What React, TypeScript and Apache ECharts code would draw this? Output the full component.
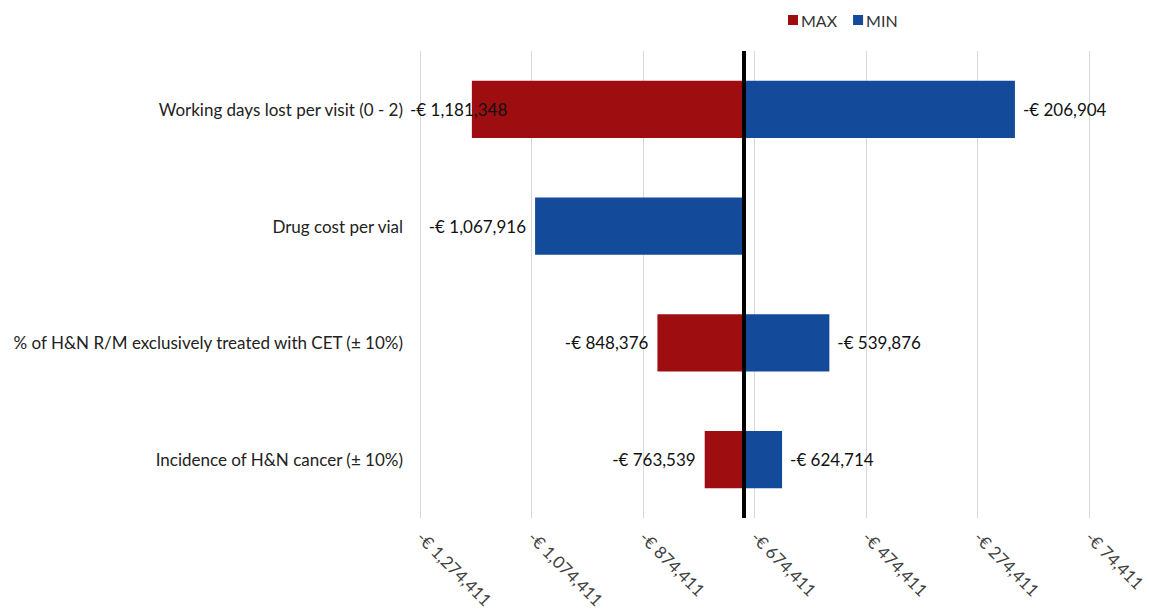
import React, { useEffect, useRef } from "react";
import * as echarts from "echarts";

const categories = [
  "Working days lost per visit (0 - 2)",
  "Drug cost per vial",
  "% of H&N R/M exclusively treated with CET (± 10%)",
  "Incidence of H&N cancer (± 10%)",
];
const maxValues: (number | null)[] = [-1181348, null, -848376, -763539];
const minValues: (number | null)[] = [-206904, -1067916, -539876, -624714];
const baseValue = -694126;
const axisMin = -1274411;
const axisMax = -74411;
const axisStep = 200000;

const RED = "#9E0E10";
const BLUE = "#134A9A";
const FONT = "Lato, 'Open Sans', sans-serif";
const LABEL_FONT_SIZE = 17;

function fmt(v: number): string {
  const s = Math.abs(Math.round(v)).toLocaleString("en-US");
  return (v < 0 ? "-" : "") + "€ " + s;
}

let measureCtx: CanvasRenderingContext2D | null = null;
function textWidth(t: string): number {
  if (!measureCtx) {
    const c = document.createElement("canvas");
    measureCtx = c.getContext("2d");
  }
  if (!measureCtx) return t.length * 9;
  measureCtx.font = `${LABEL_FONT_SIZE}px ${FONT}`;
  return measureCtx.measureText(t).width;
}

function makeRender(color: string) {
  return (params: any, api: any) => {
    const v = api.value(0);
    const c = api.value(1);
    const pBase = api.coord([baseValue, c]);
    const pVal = api.coord([v, c]);
    const band = api.size([0, 1])[1];
    const h = band * 0.49;
    const x = Math.min(pBase[0], pVal[0]);
    const w = Math.abs(pBase[0] - pVal[0]);
    const label = fmt(v);
    const left = v < baseValue;
    const gridLeft = params.coordSys.x - 10;
    let lx: number;
    let align: string;
    if (left) {
      lx = x - 9;
      align = "right";
      const tw = textWidth(label);
      if (lx - tw < gridLeft) {
        lx = gridLeft;
        align = "left";
      }
    } else {
      lx = x + w + 8;
      align = "left";
    }
    return {
      type: "group",
      children: [
        {
          type: "rect",
          shape: { x, y: pBase[1] - h / 2, width: w, height: h },
          style: { fill: color },
        },
        {
          type: "text",
          z2: 10,
          style: {
            text: label,
            x: lx,
            y: pBase[1],
            align,
            verticalAlign: "middle",
            fill: "#111",
            fontSize: LABEL_FONT_SIZE,
            fontFamily: FONT,
          },
        },
      ],
    };
  };
}

export default function App() {
  const ref = useRef<HTMLDivElement>(null);
  useEffect(() => {
    if (!ref.current) return;
    const chart = echarts.init(ref.current, null, { renderer: "svg" });
    const maxData = maxValues
      .map((v, i) => (v == null ? null : [v, i]))
      .filter((d) => d != null);
    const minData = minValues
      .map((v, i) => (v == null ? null : [v, i]))
      .filter((d) => d != null);
    chart.setOption({
      animation: false,
      backgroundColor: "#fff",
      textStyle: { fontFamily: FONT },
      legend: {
        top: 7,
        left: 783,
        icon: "rect",
        itemWidth: 10,
        itemHeight: 10,
        itemGap: 16,
        textStyle: { fontSize: 16, color: "#333", fontFamily: FONT, padding: [0, 0, 0, -2] },
        data: [
          { name: "MAX", itemStyle: { color: RED } },
          { name: "MIN", itemStyle: { color: BLUE } },
        ],
      },
      grid: { left: 420, right: 56, top: 51, bottom: 90, containLabel: false },
      xAxis: {
        type: "value",
        min: axisMin,
        max: axisMax,
        interval: axisStep,
        axisLine: { show: false },
        axisTick: { show: false },
        splitLine: { show: true, lineStyle: { color: "#d9d9d9", width: 1 } },
        axisLabel: {
          rotate: -45,
          margin: 16,
          fontSize: 17,
          color: "#404040",
          fontFamily: FONT,
          formatter: (v: number) => fmt(v),
        },
      },
      yAxis: {
        type: "category",
        inverse: true,
        data: categories,
        axisLine: { show: false },
        axisTick: { show: false },
        splitLine: { show: false },
        axisLabel: {
          margin: 17,
          fontSize: 17,
          color: "#222",
          fontFamily: FONT,
        },
      },
      series: [
        {
          name: "MAX",
          type: "custom",
          itemStyle: { color: RED },
          renderItem: makeRender(RED),
          encode: { x: 0, y: 1 },
          data: maxData,
          markLine: {
            silent: true,
            symbol: "none",
            label: { show: false },
            lineStyle: { color: "#000", width: 4, type: "solid" },
            data: [{ xAxis: baseValue }],
            z: 20,
          },
          z: 5,
        },
        {
          name: "MIN",
          type: "custom",
          itemStyle: { color: BLUE },
          renderItem: makeRender(BLUE),
          encode: { x: 0, y: 1 },
          data: minData,
          z: 5,
        },
      ],
    });
    return () => chart.dispose();
  }, []);
  return (
    <div
      ref={ref}
      style={{ position: "absolute", left: 0, top: 0, width: 1149, height: 611 }}
    />
  );
}
